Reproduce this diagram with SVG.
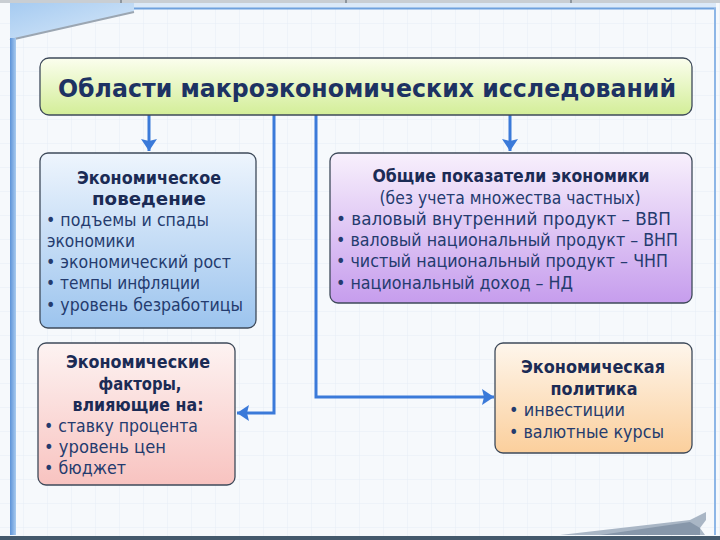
<svg xmlns="http://www.w3.org/2000/svg" width="720" height="540" viewBox="0 0 720 540">
<defs>
<pattern id="grid" width="24" height="24" patternUnits="userSpaceOnUse">
<rect width="24" height="24" fill="#f6f9fc"/>
<path d="M24,0 V24 M0,24 H24" stroke="#e6edf6" stroke-width="1" fill="none"/>
</pattern>
<linearGradient id="gTitle" x1="0" y1="0" x2="0" y2="1"><stop offset="0" stop-color="#fbfeee"/><stop offset="1" stop-color="#d3ee98"/></linearGradient>
<linearGradient id="gBlue" x1="0" y1="0" x2="0" y2="1"><stop offset="0" stop-color="#eef5fd"/><stop offset="1" stop-color="#9cc4ee"/></linearGradient>
<linearGradient id="gPurple" x1="0" y1="0" x2="0" y2="1"><stop offset="0" stop-color="#f8f0fc"/><stop offset="1" stop-color="#c69ded"/></linearGradient>
<linearGradient id="gPink" x1="0" y1="0" x2="0" y2="1"><stop offset="0" stop-color="#fdf3f2"/><stop offset="1" stop-color="#f8c3c0"/></linearGradient>
<linearGradient id="gPeach" x1="0" y1="0" x2="0" y2="1"><stop offset="0" stop-color="#fef6ec"/><stop offset="1" stop-color="#fbcf9c"/></linearGradient>
<linearGradient id="gCorner" x1="0" y1="0" x2="1" y2="1"><stop offset="0" stop-color="#a6cbf1"/><stop offset="1" stop-color="#d9e9f9"/></linearGradient>
<linearGradient id="gLeft" x1="0" y1="0" x2="1" y2="0"><stop offset="0" stop-color="#5d93d8"/><stop offset="1" stop-color="#a9cbef"/></linearGradient>
<marker id="arr" viewBox="0 0 12 16" refX="12" refY="8" markerWidth="12" markerHeight="16" markerUnits="userSpaceOnUse" orient="auto">
<path d="M0,0 L12,8 L0,16 L2,8 z" fill="#3b7ad9"/>
</marker>
</defs>
<style>
.box{stroke:#3e4a5a;stroke-width:1.3}
.h{font-family:"DejaVu Sans",Verdana,sans-serif;font-weight:bold;font-size:17px;fill:#1b2b55;text-anchor:middle}
.t{font-family:"DejaVu Sans",Verdana,sans-serif;font-size:17px;fill:#243b6e}
.ttl{font-family:"DejaVu Sans",Verdana,sans-serif;font-weight:bold;font-size:25px;fill:#1d3263;text-anchor:middle}
.conn{fill:none;stroke:#3b7ad9;stroke-width:3;stroke-linecap:butt}
</style>
<!-- background -->
<rect width="720" height="540" fill="url(#grid)"/>
<rect x="0" y="0" width="720" height="3" fill="#c9ced3"/>
<rect x="120" y="0" width="2" height="3" fill="#8e969e"/>
<rect x="345" y="0" width="2" height="3" fill="#8e969e"/>
<rect x="570" y="0" width="2" height="3" fill="#8e969e"/>
<rect x="10" y="3" width="706" height="6" fill="#dbe9f8"/>
<line x1="134" y1="8.5" x2="716" y2="8.5" stroke="#6fa1dd" stroke-width="2"/>
<polygon points="10,3 134,3 134,12 10,40" fill="url(#gCorner)"/>
<line x1="10" y1="40" x2="134" y2="12" stroke="#9ba6b2" stroke-width="2"/>
<rect x="10" y="38" width="6" height="497" fill="url(#gLeft)"/>
<line x1="715" y1="8" x2="715" y2="535" stroke="#8db6e6" stroke-width="2"/>
<polygon points="560,535 690,520 706,512 706,520 700,528 705,535" fill="#a9b6c5"/>
<polygon points="600,535 690,522 700,528 700,535" fill="#8797aa"/>
<rect x="0" y="536" width="720" height="4" fill="#44596c"/>

<!-- connectors -->
<g id="connectors">
<path class="conn" d="M149,115 V151" marker-end="url(#arr)"/>
<path class="conn" d="M510,115 V151" marker-end="url(#arr)"/>
<path class="conn" d="M274,115 V413 H237" marker-end="url(#arr)"/>
<path class="conn" d="M316,115 V397 H494" marker-end="url(#arr)"/>
</g>

<g id="title">
<rect class="box" x="40" y="58" width="652" height="57" rx="9" fill="url(#gTitle)"/>
<text class="ttl" x="367" y="97" textLength="618" lengthAdjust="spacingAndGlyphs">Области макроэкономических исследований</text>
</g>

<g id="behavior">
<rect class="box" x="40" y="153" width="216" height="175" rx="8" fill="url(#gBlue)"/>
<text class="h" x="149" y="184" textLength="144" lengthAdjust="spacingAndGlyphs">Экономическое</text>
<text class="h" x="149" y="205" textLength="114" lengthAdjust="spacingAndGlyphs">поведение</text>
<text class="t" x="46" y="226" textLength="163" lengthAdjust="spacingAndGlyphs">• подъемы и спады</text>
<text class="t" x="47" y="247" textLength="88" lengthAdjust="spacingAndGlyphs">экономики</text>
<text class="t" x="46" y="268" textLength="185" lengthAdjust="spacingAndGlyphs">• экономический рост</text>
<text class="t" x="46" y="289" textLength="154" lengthAdjust="spacingAndGlyphs">• темпы инфляции</text>
<text class="t" x="46" y="311" textLength="197" lengthAdjust="spacingAndGlyphs">• уровень безработицы</text>
</g>

<g id="indicators">
<rect class="box" x="330" y="153" width="362" height="150" rx="8" fill="url(#gPurple)"/>
<text class="h" x="511" y="182" textLength="277" lengthAdjust="spacingAndGlyphs">Общие показатели экономики</text>
<text class="t" x="510" y="204" text-anchor="middle" textLength="261" lengthAdjust="spacingAndGlyphs">(без учета множества частных)</text>
<text class="t" x="336" y="225" textLength="335" lengthAdjust="spacingAndGlyphs">• валовый внутренний продукт – ВВП</text>
<text class="t" x="336" y="246" textLength="342" lengthAdjust="spacingAndGlyphs">• валовый национальный продукт – ВНП</text>
<text class="t" x="336" y="267" textLength="332" lengthAdjust="spacingAndGlyphs">• чистый национальный продукт – ЧНП</text>
<text class="t" x="336" y="289" textLength="237" lengthAdjust="spacingAndGlyphs">• национальный доход – НД</text>
</g>

<g id="factors">
<rect class="box" x="38" y="343" width="197" height="142" rx="8" fill="url(#gPink)"/>
<text class="h" x="138" y="368" textLength="144" lengthAdjust="spacingAndGlyphs">Экономические</text>
<text class="h" x="140" y="390" textLength="83" lengthAdjust="spacingAndGlyphs">факторы,</text>
<text class="h" x="138" y="411" textLength="131" lengthAdjust="spacingAndGlyphs">влияющие на:</text>
<text class="t" x="44" y="432" textLength="154" lengthAdjust="spacingAndGlyphs">• ставку процента</text>
<text class="t" x="44" y="453" textLength="122" lengthAdjust="spacingAndGlyphs">• уровень цен</text>
<text class="t" x="44" y="474" textLength="82" lengthAdjust="spacingAndGlyphs">• бюджет</text>
</g>

<g id="policy">
<rect class="box" x="495" y="343" width="197" height="110" rx="8" fill="url(#gPeach)"/>
<text class="h" x="593" y="373" textLength="144" lengthAdjust="spacingAndGlyphs">Экономическая</text>
<text class="h" x="594" y="395" textLength="87" lengthAdjust="spacingAndGlyphs">политика</text>
<text class="t" x="509" y="416" textLength="116" lengthAdjust="spacingAndGlyphs">• инвестиции</text>
<text class="t" x="509" y="438" textLength="155" lengthAdjust="spacingAndGlyphs">• валютные курсы</text>
</g>
</svg>
